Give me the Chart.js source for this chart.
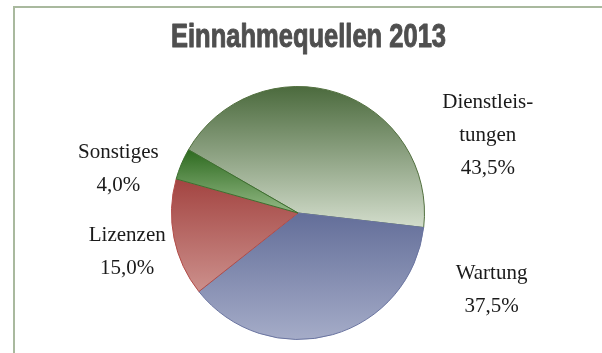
<!DOCTYPE html>
<html><head><meta charset="utf-8">
<script src="https://cdn.jsdelivr.net/npm/chart.js@4/dist/chart.umd.min.js"></script>
<style>html,body{margin:0;padding:0;background:#fff;overflow:hidden}#wrap{position:relative;width:602px;height:353px}</style>
</head><body><div id="wrap"><canvas id="c" width="602" height="353"></canvas></div>
<script>
const categories = ["Dienstleistungen", "Wartung", "Lizenzen", "Sonstiges"];
const labelLines = [["Dienstleis-", "tungen"], ["Wartung"], ["Lizenzen"], ["Sonstiges"]];
const shares = [43.5, 37.5, 15.0, 4.0];
const percentLabels = ["43,5%", "37,5%", "15,0%", "4,0%"];
const chartTitle = "Einnahmequellen 2013";

const topColors = ["#4b6a3d", "#636e99", "#a34441", "#2d6a1f"];
const bottomColors = ["#d3ddcc", "#a5acc8", "#cc908c", "#93b985"];
const edgeColors = ["#52703f", "#6a74a0", "#b24c48", "#3d6f2f"];
const ROT = -60; // degrees

function sliceGradient(ctx) {
  const chart = ctx.chart, area = chart.chartArea, i = ctx.dataIndex;
  if (!area) return topColors[i];
  const cx = (area.left + area.right) / 2, cy = (area.top + area.bottom) / 2;
  const r = Math.min(area.right - area.left, area.bottom - area.top) / 2;
  const total = shares.reduce((a, b) => a + b, 0);
  let s = ROT * Math.PI / 180 - Math.PI / 2;
  for (let j = 0; j < i; j++) s += 2 * Math.PI * shares[j] / total;
  const e = s + 2 * Math.PI * shares[i] / total;
  let ys = [cy, cy + r * Math.sin(s), cy + r * Math.sin(e)];
  for (let k = -3; k <= 3; k++) {
    const a1 = Math.PI / 2 + 2 * Math.PI * k, a2 = -Math.PI / 2 + 2 * Math.PI * k;
    if (a1 > s && a1 < e) ys.push(cy + r);
    if (a2 > s && a2 < e) ys.push(cy - r);
  }
  const y0 = Math.min(...ys), y1 = Math.max(...ys);
  const g = chart.ctx.createLinearGradient(0, y0, 0, y1);
  g.addColorStop(0, topColors[i]);
  g.addColorStop(1, bottomColors[i]);
  return g;
}

const labelPlacement = [[1.50, -0.61], [1.53, 0.61], [-1.35, 0.31], [-1.42, -0.35]];

const outsideLabels = {
  id: 'outsideLabels',
  afterDatasetsDraw(chart) {
    const meta = chart.getDatasetMeta(0), c = chart.ctx;
    c.save();
    c.font = '21px "Liberation Serif", "Times New Roman", serif';
    c.fillStyle = '#1a1a1a';
    c.textAlign = 'center';
    c.textBaseline = 'middle';
    const lh = 33;
    meta.data.forEach((arc, i) => {
      const lines = labelLines[i].concat([percentLabels[i]]);
      const x = arc.x + labelPlacement[i][0] * arc.outerRadius;
      const y = arc.y + labelPlacement[i][1] * arc.outerRadius;
      const y0 = y - (lines.length - 1) * lh / 2;
      lines.forEach((t, k) => c.fillText(t, x, y0 + k * lh));
    });
    c.restore();
  }
};

const condensedTitle = {
  id: 'condensedTitle',
  afterDraw(chart) {
    const c = chart.ctx;
    c.save();
    c.font = 'bold 33px "Liberation Sans", Arial, sans-serif';
    c.textAlign = 'center';
    c.textBaseline = 'alphabetic';
    c.fillStyle = '#4f4f4f';
    c.strokeStyle = '#4f4f4f';
    c.lineWidth = 1;
    c.lineJoin = 'round';
    const w = c.measureText(chartTitle).width;
    const sx = 275 / w;
    c.translate(308.5, 47);
    c.scale(sx, 1);
    c.fillText(chartTitle, 0, 0);
    c.strokeText(chartTitle, 0, 0);
    c.restore();
  }
};

const frame = {
  id: 'frame',
  beforeDraw(chart) {
    const c = chart.ctx;
    c.save();
    c.strokeStyle = '#a9b99e';
    c.lineWidth = 2;
    c.beginPath();
    c.moveTo(14, 400); c.lineTo(14, 7); c.lineTo(700, 7);
    c.stroke();
    c.restore();
  }
};

new Chart(document.getElementById('c'), {
  type: 'pie',
  data: {
    labels: categories,
    datasets: [{
      data: shares,
      backgroundColor: sliceGradient,
      borderColor: edgeColors,
      borderWidth: 1
    }]
  },
  options: {
    responsive: false,
    animation: false,
    rotation: ROT,
    layout: { padding: { left: 0, right: 6, top: 86, bottom: 13 } },
    plugins: {
      legend: { display: false },
      tooltip: { enabled: false },
      title: { display: false }
    }
  },
  plugins: [frame, outsideLabels, condensedTitle]
});
</script></body></html>
